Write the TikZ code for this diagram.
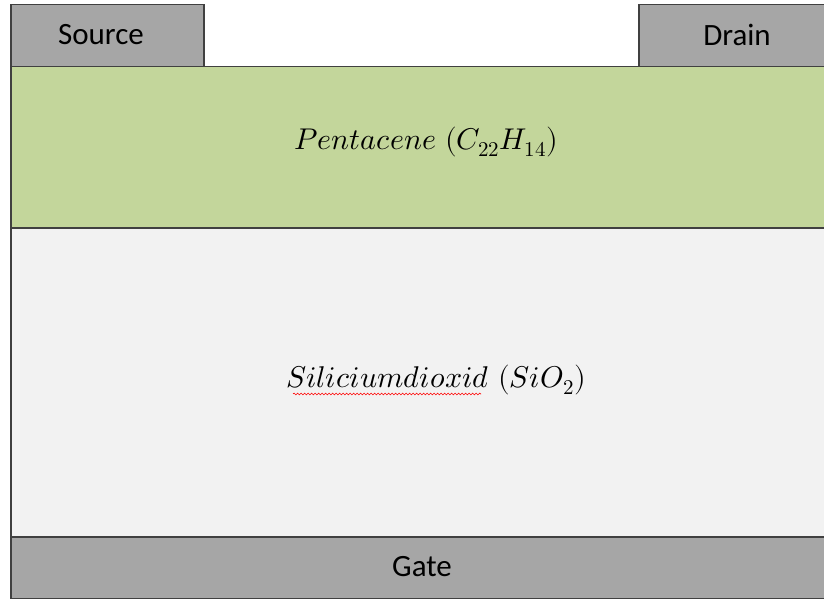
\documentclass[tikz,border=0pt]{standalone}
\usepackage{fontspec}
\usepackage{unicode-math}
\setmathfont{Latin Modern Math}
\setsansfont{Carlito}
\usetikzlibrary{decorations.pathmorphing}
\definecolor{metal}{HTML}{A6A6A6}
\definecolor{pent}{HTML}{C3D69B}
\definecolor{oxide}{HTML}{F2F2F2}
\definecolor{edge}{HTML}{404040}
\begin{document}
\begin{tikzpicture}[x=1pt,y=-1pt,
  layer/.style={draw=edge, line width=1.5pt, rectangle, inner sep=0pt, anchor=north west},
  lbl/.style={font=\sffamily\fontsize{31}{36}\selectfont, text=black, inner sep=0pt},
  mlbl/.style={font=\fontsize{30}{34}\selectfont, text=black, inner sep=0pt}]
\useasboundingbox (0,0) rectangle (824,599);
\clip (0,0) rectangle (824,599);
\fill[white] (0,0) rectangle (824,599);
\node[layer, fill=pent, minimum width=824pt, minimum height=161pt] (pent) at (10,66) {};
\node[layer, fill=oxide, minimum width=824pt, minimum height=309pt] (oxide) at (10,227) {};
\node[layer, fill=metal, minimum width=824pt, minimum height=62pt] (gate) at (10,536) {};
\node[layer, fill=metal, minimum width=193pt, minimum height=62pt] (source) at (10,4) {};
\node[layer, fill=metal, minimum width=196pt, minimum height=62pt] (drain) at (638,4) {};
\node[lbl] (sourcelbl) at (101,35) {Source};
\node[lbl] (drainlbl) at (737,35) {Drain};
\node[lbl] (gatelbl) at (422,567) {Gate};
\node[mlbl] (pentlbl) at (426,142) {$Pentacene\ (C_{22}H_{14})$};
\node[mlbl] (oxidelbl) at (436,380) {$Siliciumdioxid\ (SiO_2)$};
\coordinate (sqa) at (293,394);
\coordinate (sqb) at (481,394);
\draw[red, line width=0.6pt, decorate, decoration={snake, segment length=3.5pt, amplitude=0.9pt}] (sqa) -- (sqb);
\end{tikzpicture}
\end{document}
